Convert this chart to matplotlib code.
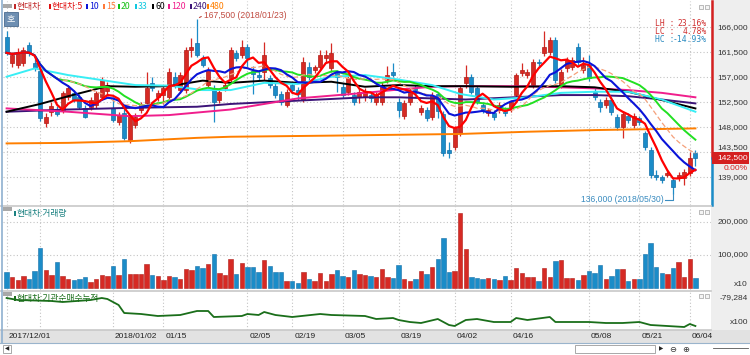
import numpy as np
import pandas as pd
import matplotlib
matplotlib.use('Agg')
import matplotlib.pyplot as plt
from matplotlib.patches import Rectangle
import matplotlib.transforms as mtrans

W, H = 750, 355

# ---------------- data ----------------
opens = [164300, 159500, 159200, 159600, 162900, 159500, 158200, 148700, 150800, 151100,
         151100, 153500, 154100, 153500, 151400, 151700, 152000, 153500, 154500, 151500,
         149000, 150500, 145700, 148400, 151100, 152300, 155900, 153400, 153800, 153400,
         157100, 154700, 154700, 161900, 163100, 160400, 155600, 155000, 152900, 155000,
         156800, 161400, 161000, 162400, 158200, 157500, 158000, 156800, 155400, 154000,
         152000, 155600, 154800, 152900, 158900, 158400, 158900, 160400, 158600, 157700,
         155300, 154400, 153800, 153500, 153500, 153800, 152600, 152600, 156500, 158000,
         152600, 150000, 152600, 155000, 150800, 151100, 149900, 154000, 150400, 143900,
         144500, 147000, 155900, 157100, 155000, 152000, 150500, 150600, 151100, 151100,
         151400, 153800, 157800, 157400, 155600, 159800, 161400, 161600, 163800, 155600,
         158600, 158900, 162400, 158300, 159200, 154400, 152600, 152000, 152900, 149900,
         148100, 150000, 148400, 149600, 146900, 143900, 139400, 139000, 139400, 138500,
         138800, 138800, 139700, 143400]
highs = [165400, 161500, 162200, 162500, 163300, 160300, 158600, 150500, 152600, 151800,
         154600, 155600, 154700, 154000, 152000, 153500, 154600, 157100, 156200, 153500,
         150800, 151500, 150300, 150500, 152500, 158000, 157000, 154800, 155600, 158600,
         158000, 158000, 162500, 164000, 167500, 161000, 158900, 155600, 155000, 156200,
         162500, 162000, 163800, 163000, 159000, 158200, 163400, 157400, 156000, 154500,
         154900, 156200, 155300, 160600, 159800, 159300, 162000, 162000, 163100, 158300,
         155900, 157200, 154400, 155000, 155000, 154300, 154300, 156100, 159000, 159500,
         153200, 152900, 155000, 155600, 152000, 151600, 154400, 154400, 151000, 145400,
         148300, 155500, 159200, 157600, 155500, 152500, 151500, 151100, 152500, 151700,
         153000, 157800, 159500, 158500, 160300, 160300, 165400, 164300, 164300, 158500,
         160600, 160600, 163100, 160700, 161000, 155000, 153100, 153500, 153400, 150400,
         150900, 150500, 150500, 150100, 147400, 144400, 140300, 139500, 140400, 139000,
         139900, 140500, 143500, 144000]
lows = [161000, 158900, 158700, 159000, 160800, 158200, 149200, 148000, 150000, 150000,
        150600, 153000, 152500, 151300, 149600, 151200, 151500, 153000, 154000, 149000,
        148500, 145700, 145100, 147800, 150500, 151800, 154500, 152800, 152200, 153000,
        155000, 154200, 154200, 160700, 160600, 158800, 155000, 149000, 152300, 154500,
        156200, 159900, 160500, 158900, 154000, 156500, 156500, 155000, 153300, 152000,
        151600, 154200, 153000, 152500, 156500, 157700, 158300, 159800, 158000, 154400,
        153200, 153800, 152000, 152400, 152800, 152600, 152000, 152000, 156000, 157000,
        149900, 149500, 152000, 153600, 150300, 149100, 149400, 149600, 142900, 142400,
        143900, 146500, 155000, 154000, 152200, 150600, 150000, 149400, 150600, 150000,
        150800, 153300, 157300, 156800, 155000, 159000, 160800, 161000, 156000, 155000,
        158000, 158400, 159300, 157800, 156300, 152900, 150800, 151500, 150300, 147600,
        146000, 148800, 147900, 148500, 144000, 138900, 138500, 138000, 139000, 136000,
        138300, 137600, 139200, 141000]
closes = [161400, 161000, 161600, 161900, 161300, 158600, 149600, 149900, 151800, 150400,
          154100, 155000, 152900, 151700, 149900, 152900, 154100, 156500, 155600, 149300,
          150200, 146000, 150000, 149900, 152000, 155000, 155000, 154100, 155000, 158000,
          155600, 157400, 161900, 162500, 161000, 159200, 158300, 152600, 154400, 155600,
          161900, 160400, 162500, 160400, 157600, 157100, 161000, 155600, 153800, 152600,
          154400, 154700, 154000, 159800, 157100, 158900, 161000, 161000, 161400, 157100,
          153800, 156800, 152600, 154400, 154400, 153200, 153800, 155600, 157400, 157400,
          151200, 152400, 154400, 154100, 151400, 149600, 153800, 151000, 143300, 143400,
          147800, 155000, 157100, 154400, 152600, 151100, 151100, 149900, 152000, 150500,
          152600, 157400, 158400, 158000, 159800, 159500, 162500, 163800, 156500, 158000,
          160100, 160100, 159800, 159200, 156800, 153400, 151700, 153000, 150800, 148100,
          150400, 149300, 150000, 149000, 144500, 139400, 139000, 138500, 139800, 137300,
          139400, 140000, 142500, 142500]
volumes = [48000, 35000, 25000, 38000, 27000, 52000, 121000, 55000, 40000, 80000,
           36000, 27000, 24000, 28000, 34000, 20000, 27000, 40000, 36000, 68000,
           40000, 88000, 42000, 43000, 42000, 74000, 41000, 37000, 26000, 37000,
           34000, 28000, 58000, 55000, 68000, 60000, 73000, 102000, 46000, 40000,
           89000, 42000, 75000, 63000, 65000, 50000, 85000, 68000, 50000, 48000,
           22000, 22000, 16000, 48000, 28000, 22000, 46000, 22000, 43000, 55000,
           36000, 33000, 54000, 42000, 40000, 36000, 33000, 58000, 33000, 32000,
           70000, 27000, 22000, 29000, 52000, 42000, 65000, 87000, 150000, 48000,
           52000, 227000, 117000, 35000, 30000, 27000, 32000, 29000, 25000, 38000,
           25000, 62000, 45000, 35000, 35000, 23000, 60000, 35000, 83000, 85000,
           30000, 32000, 25000, 39000, 53000, 45000, 69000, 27000, 38000, 57000,
           57000, 23000, 27000, 27000, 102000, 137000, 65000, 45000, 42000, 60000,
           80000, 35000, 87000, 32000]

tick_idx = [0, 19, 28, 43, 51, 60, 70, 80, 90, 104, 113, 122]
tick_labels = ['2017/12/01', '2018/01/02', '01/15', '02/05', '02/19', '03/05',
               '03/19', '04/02', '04/16', '05/08', '05/21', '06/04']
extra_grid_idx = [6]

ma33_idx = [0, 5, 11, 17, 23, 29, 35, 40, 46, 52, 58, 64, 70, 76, 81, 87, 93, 99, 105, 111, 117, 123]
ma33_val = [157100, 158600, 157400, 156500, 155600, 155500, 154700, 154700, 156000, 155800, 157100,
            157400, 156600, 155600, 154000, 153000, 153400, 154200, 154400, 154400, 153000, 150800]
ma60_idx = [0, 6, 11, 18, 23, 29, 35, 40, 46, 52, 58, 64, 70, 76, 82, 90, 99, 105, 111, 117, 123]
ma60_val = [150800, 152200, 153600, 155400, 155300, 155400, 156400, 156000, 156400, 156000, 156200,
            155300, 155600, 155400, 155400, 155300, 155400, 155200, 154400, 152900, 151400]
ma120_idx = [0, 11, 22, 29, 40, 52, 64, 70, 76, 81, 93, 105, 111, 117, 123]
ma120_val = [151400, 150800, 150000, 150200, 151200, 153200, 154200, 154800, 155300, 155400,
             155400, 155000, 154700, 154200, 153400]
ma240_idx = [0, 11, 22, 34, 40, 52, 64, 70, 82, 99, 105, 111, 117, 123]
ma240_val = [150800, 151200, 151500, 151700, 152200, 152800, 153400, 153400, 153000, 153800,
             153800, 153600, 153000, 152300]
ma480_idx = [0, 11, 22, 34, 40, 58, 81, 93, 105, 123]
ma480_val = [145100, 145200, 145500, 146100, 146300, 146500, 146800, 147200, 147500, 147800]

inst_idx = [0, 2, 8, 10, 15, 17, 18, 20, 21, 24, 27, 31, 34, 36, 37, 42, 43, 45, 46, 48, 51,
            56, 58, 64, 66, 69, 70, 72, 74, 77, 79, 80, 82, 84, 87, 90, 91, 93, 97, 98, 104,
            107, 110, 113, 115, 118, 121, 122, 123]
inst_val = [-79284, -79484, -79584, -79684, -79484, -79284, -79384, -79984, -80784, -80884,
            -81084, -80984, -80584, -80584, -81184, -81084, -80884, -80984, -80684, -80984,
            -81184, -80884, -80984, -81084, -81384, -81284, -81484, -81684, -81784, -81384,
            -81984, -82084, -81484, -81384, -81684, -81684, -81284, -81484, -81184, -81684,
            -81684, -81784, -81784, -81684, -81984, -82084, -82184, -81884, -82084]

price_ticks = [166000, 161500, 157000, 152500, 148000, 143500, 139000]
vol_ticks = [200000, 100000]

# ---------------- styling ----------------
RED = '#d62a24'
RED_E = '#b01c18'
BLUE = '#1b8cc8'
BLUE_E = '#1570a8'
C_MA5 = '#ff0000'
C_MA10 = '#0a14d8'
C_MA15 = '#f5a07a'
C_MA20 = '#22e022'
C_MA33 = '#38eef5'
C_MA60 = '#000000'
C_MA120 = '#f01e8c'
C_MA240 = '#3c1478'
C_MA480 = '#ff7f00'
GRID = '#c4c4c4'
KFONT = ['Noto Sans CJK KR', 'DejaVu Sans']
NFONT = 'Liberation Sans'

fig = plt.figure(figsize=(7.5, 3.55), dpi=100)
fig.patch.set_facecolor('white')


def px_axes(l, t, r, b):
    return fig.add_axes([l / W, 1 - b / H, (r - l) / W, (b - t) / H])


def fx(x):
    return x / W


def fy(y):
    return 1 - y / H


# background for right scale column and date band
fig.add_artist(Rectangle((fx(711), fy(330)), fx(39), 330 / H, transform=fig.transFigure,
                         facecolor='#eeeeee', edgecolor='none', zorder=-2))
fig.add_artist(Rectangle((0, fy(343)), 1, 13 / H, transform=fig.transFigure,
                         facecolor='#e2e2e2', edgecolor='none', zorder=-2))

n = len(closes)
x = np.arange(n)
XL = ((3 - 6.6) / 5.6, (711 - 6.6) / 5.6)
o = np.array(opens, float)
c = np.array(closes, float)
hi = np.array(highs, float)
lo = np.array(lows, float)
up = c >= o
cols = np.where(up, RED, BLUE)
ecols = np.where(up, RED_E, BLUE_E)

# ---------------- main price panel ----------------
ax = px_axes(3, 1, 711, 205)
ax.set_xlim(*XL)
ax.set_ylim(166000 - (205 - 27.3) * 180, 166000 + (27.3 - 1) * 180)
ax.set_axis_off()
for p in price_ticks:
    ax.axhline(p, color=GRID, lw=0.8, ls=(0, (1, 2)), zorder=0)
for t in tick_idx + extra_grid_idx:
    ax.axvline(t, color=GRID, lw=0.8, ls=(0, (1, 2)), zorder=0)

ax.vlines(x, lo, hi, colors=cols, lw=0.9, zorder=2)
body_h = np.maximum(np.abs(c - o), 120)
ax.bar(x, body_h, bottom=np.minimum(o, c), width=0.74, color=cols, edgecolor=ecols,
       linewidth=0.5, zorder=3)

cs = pd.Series(c)
ax.plot(ma480_idx, ma480_val, color=C_MA480, lw=1.4, zorder=4)
ax.plot(ma240_idx, ma240_val, color=C_MA240, lw=1.4, zorder=4)
ax.plot(ma120_idx, ma120_val, color=C_MA120, lw=1.4, zorder=4)
ax.plot(ma60_idx, ma60_val, color=C_MA60, lw=1.4, zorder=4)
ax.plot(ma33_idx, ma33_val, color=C_MA33, lw=1.4, zorder=4)
ax.plot(x, cs.rolling(20, min_periods=1).mean(), color=C_MA20, lw=1.4, zorder=5)
ax.plot(x, cs.rolling(15, min_periods=1).mean(), color=C_MA15, lw=0.9, ls=(0, (4, 2)), zorder=5)
ax.plot(x, cs.rolling(10, min_periods=1).mean(), color=C_MA10, lw=1.5, zorder=6)
ax.plot(x, cs.rolling(5, min_periods=1).mean(), color=C_MA5, lw=1.6, zorder=7)

# high / low annotations
ih = int(np.argmax(hi))
il = int(np.argmin(lo))
ax.annotate('', xy=(ih, hi[ih]), xytext=(ih + 1.2, hi[ih] + 700),
            arrowprops=dict(arrowstyle='-', color='#c04a40', lw=0.8))
ax.text(ih + 1.3, hi[ih] + 700, f'{int(hi[ih]):,} (2018/01/23)', color='#c04a40',
        fontsize=6.2, family=NFONT, va='center', ha='left', zorder=8)
ax.plot([il - 1.4, il, il], [lo[il] - 1000, lo[il] - 1000, lo[il]], color='#3a8cc0', lw=0.8, zorder=8)
ax.text(il - 1.6, lo[il] - 1000, f'{int(lo[il]):,} (2018/05/30)', color='#3a8cc0',
        fontsize=6.2, family=NFONT, va='center', ha='right', zorder=8)

# LH / LC / HC
last = c[-1]
lh = (hi.max() / lo.min() - 1) * 100
lc = (last / lo.min() - 1) * 100
hc = (last / hi.max() - 1) * 100
for k, (lab, val, colr) in enumerate([('LH', lh, '#d03030'), ('LC', lc, '#d03030'), ('HC', hc, '#2a8ac0')]):
    fig.text(fx(655), fy(24 + 8 * k), f'{lab} :', color=colr, fontsize=5.8, family='DejaVu Sans Mono',
             va='center', ha='left')
    fig.text(fx(707), fy(24 + 8 * k), f'{val:.2f}%', color=colr, fontsize=5.8, family='DejaVu Sans Mono',
             va='center', ha='right')

# right price scale
bt = mtrans.blended_transform_factory(fig.transFigure, ax.transData)
for p in price_ticks:
    if p == 143500:
        continue
    ax.text(fx(748), p, f'{p:,}', transform=bt, ha='right', va='center', fontsize=6,
            family=NFONT, color='#333333', clip_on=False)
ax.text(fx(748), 143700, '143,500', transform=bt, ha='right', va='bottom', fontsize=6,
        family=NFONT, color='#333333', clip_on=False)
# current price marker
ax.add_artist(Rectangle((fx(712), last - 1050), fx(37), 2100, transform=bt, facecolor='#d42020',
                        edgecolor='none', clip_on=False, zorder=9))
ax.text(fx(748), last, f'{int(last):,}', transform=bt, ha='right', va='center', fontsize=6,
        family=NFONT, color='white', clip_on=False, zorder=10)
ax.text(fx(748), last - 1900, '0.00%', transform=bt, ha='right', va='center', fontsize=6,
        family=NFONT, color='#d42020', clip_on=False)
ylo, yhi = ax.get_ylim()
ax.plot([fx(711.7)] * 2, [last, yhi], transform=bt, color='#d42020', lw=1.8, clip_on=False)
ax.plot([fx(711.7)] * 2, [ylo, last], transform=bt, color='#1b8cc8', lw=1.8, clip_on=False)

# legend
legend_items = [('현대차', 14, '#c02a2a'), ('현대차:5', 49, '#e01010'), ('10', 86, C_MA10),
                ('15', 103, '#ff7a3a'), ('20', 118, '#16c016'), ('33', 135, '#10c8e0'),
                ('60', 152, '#000000'), ('120', 168, C_MA120), ('240', 190, C_MA240),
                ('480', 207, C_MA480)]
for lab, xp, colr in legend_items:
    fig.add_artist(Rectangle((fx(xp), fy(9)), 2 / W, 5 / H, transform=fig.transFigure,
                             facecolor=colr, edgecolor='none'))
    fig.text(fx(xp + 3), fy(6.5), lab, color=colr, fontsize=6.3, family=KFONT, va='center', ha='left')
fig.add_artist(Rectangle((fx(3), fy(8)), 9 / W, 4 / H, transform=fig.transFigure,
                         facecolor='#a8a8a8', edgecolor='none'))
fig.add_artist(Rectangle((fx(4), fy(26)), 14 / W, 14 / H, transform=fig.transFigure,
                         facecolor='#6e8fb2', edgecolor='#4a6a8e', lw=0.6))
fig.text(fx(11), fy(19), '호', color='white', fontsize=6.5, family=KFONT, ha='center', va='center')

# ---------------- volume panel ----------------
av = px_axes(3, 206, 711, 290)
av.set_xlim(*XL)
av.set_ylim((288.3 - 290) * 3003, (288.3 - 206) * 3003)
av.set_axis_off()
for v in vol_ticks:
    av.axhline(v, color=GRID, lw=0.8, ls=(0, (1, 2)), zorder=0)
for t in tick_idx + extra_grid_idx:
    av.axvline(t, color=GRID, lw=0.8, ls=(0, (1, 2)), zorder=0)
av.bar(x, volumes, width=0.78, color=cols, edgecolor=ecols, linewidth=0.4, zorder=3)
btv = mtrans.blended_transform_factory(fig.transFigure, av.transData)
for v in vol_ticks:
    av.text(fx(748), v, f'{v:,}', transform=btv, ha='right', va='center', fontsize=6,
            family=NFONT, color='#333333', clip_on=False)
fig.text(fx(748), fy(284), 'x10', ha='right', va='center', fontsize=6, family=NFONT, color='#333333')
fig.add_artist(Rectangle((fx(3), fy(211)), 9 / W, 4 / H, transform=fig.transFigure,
                         facecolor='#a8a8a8', edgecolor='none'))
fig.add_artist(Rectangle((fx(14), fy(216)), 2 / W, 5 / H, transform=fig.transFigure,
                         facecolor='#1a8080', edgecolor='none'))
fig.text(fx(17), fy(213.5), '현대차:거래량', color='#1a8080', fontsize=6.3, family=KFONT,
         va='center', ha='left')

# ---------------- institution cumulative panel ----------------
ai = px_axes(3, 291, 711, 330)
ai.set_xlim(*XL)
ai.set_ylim(-79284 - (330 - 298) * 100, -79284 + (298 - 291) * 100)
ai.set_axis_off()
for t in tick_idx + extra_grid_idx:
    ai.axvline(t, color=GRID, lw=0.8, ls=(0, (1, 2)), zorder=0)
ai.plot(inst_idx, inst_val, color='#1a6e1a', lw=1.3, zorder=3)
fig.text(fx(748), fy(298), '-79,284', ha='right', va='center', fontsize=6, family=NFONT, color='#333333')
fig.text(fx(748), fy(323), 'x100', ha='right', va='center', fontsize=6, family=NFONT, color='#333333')
fig.add_artist(Rectangle((fx(3), fy(296)), 9 / W, 4 / H, transform=fig.transFigure,
                         facecolor='#a8a8a8', edgecolor='none'))
fig.add_artist(Rectangle((fx(14), fy(301)), 2 / W, 5 / H, transform=fig.transFigure,
                         facecolor='#1a6e1a', edgecolor='none'))
fig.text(fx(17), fy(298.5), '현대차:기관순매수누적', color='#1a6e1a', fontsize=6.3, family=KFONT,
         va='center', ha='left')

# panel separators and borders
for yy in (205.5, 290.5, 330):
    fig.add_artist(plt.Line2D([0, fx(711)], [fy(yy), fy(yy)], transform=fig.transFigure,
                              color='#c8c8c8', lw=1.2))
fig.add_artist(plt.Line2D([fx(1.5), fx(1.5)], [fy(343), 1], transform=fig.transFigure,
                          color='#8fb0d0', lw=1.2))
fig.add_artist(plt.Line2D([0, 1], [fy(343), fy(343)], transform=fig.transFigure,
                          color='#9ab4cc', lw=0.8))

# panel corner buttons
for yy in (5, 210, 294):
    for xx in (699, 705):
        fig.add_artist(Rectangle((fx(xx), fy(yy + 4)), 4 / W, 4 / H, transform=fig.transFigure,
                                 facecolor='#f4f4f4', edgecolor='#a0a0a0', lw=0.5))

# date labels
bx = mtrans.blended_transform_factory(ai.transData, fig.transFigure)
for t, lab in zip(tick_idx, tick_labels):
    ai.text(t + 0.35, fy(337), lab, transform=bx, ha='left', va='center', fontsize=6,
            family=NFONT, color='#222222', clip_on=False)

# bottom toolbar
fig.add_artist(Rectangle((fx(3), fy(353)), 8 / W, 8 / H, transform=fig.transFigure,
                         facecolor='white', edgecolor='#9a9a9a', lw=0.6))
fig.text(fx(7), fy(349), '◀', fontsize=4, ha='center', va='center', color='#222222')
fig.add_artist(Rectangle((fx(575), fy(353)), 80 / W, 8 / H, transform=fig.transFigure,
                         facecolor='white', edgecolor='#9a9a9a', lw=0.6))
fig.text(fx(661), fy(349), '▶', fontsize=4, ha='center', va='center', color='#222222')
for xx in (673, 686):
    fig.text(fx(xx), fy(349), '⊖' if xx == 673 else '⊕', fontsize=6, ha='center', va='center',
             color='#333333', family='DejaVu Sans')
fig.add_artist(plt.Line2D([fx(713), fx(748)], [fy(348), fy(348)], transform=fig.transFigure,
                          color='#555555', lw=0.6))

fig.savefig('out.png', dpi=100, facecolor='white')
